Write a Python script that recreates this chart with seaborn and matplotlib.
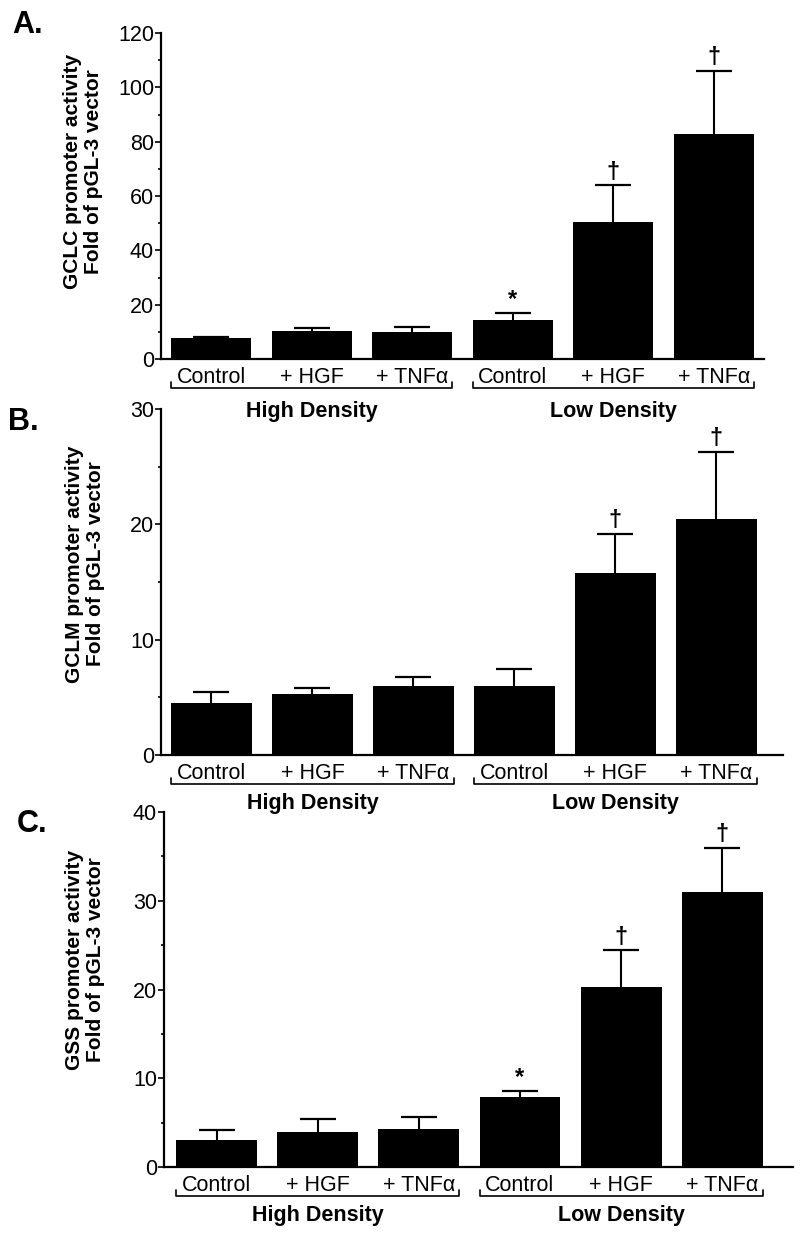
import matplotlib
matplotlib.use("Agg")
import matplotlib.pyplot as plt
import matplotlib.transforms as mtransforms
from matplotlib.ticker import MultipleLocator
import numpy as np
import pandas as pd
import seaborn as sns

# ---- data ----
conditions = ["Control", "+ HGF", "+ TNFα", "Control", "+ HGF", "+ TNFα"]
groups = ["High Density", "Low Density"]
group_of_bar = ["High Density"] * 3 + ["Low Density"] * 3
keys = [g + "|" + c for g, c in zip(group_of_bar, conditions)]

gclc_mean = [7.7, 10.3, 10.0, 14.4, 50.3, 83.0]
gclc_err = [0.3, 1.2, 1.8, 2.6, 13.7, 23.1]
gclc_marks = ["", "", "", "*", "†", "†"]

gclm_mean = [4.5, 5.25, 6.0, 6.0, 15.8, 20.5]
gclm_err = [1.0, 0.55, 0.8, 1.5, 3.4, 5.8]
gclm_marks = ["", "", "", "", "†", "†"]

gss_mean = [3.0, 4.0, 4.25, 7.85, 20.3, 30.95]
gss_err = [1.15, 1.4, 1.35, 0.75, 4.1, 5.05]
gss_marks = ["", "", "", "*", "†", "†"]

ylabels = ["GCLC promoter activity\nFold of pGL-3 vector",
           "GCLM promoter activity\nFold of pGL-3 vector",
           "GSS promoter activity\nFold of pGL-3 vector"]
letters = ["A.", "B.", "C."]
ymax = [120, 30, 40]
major_step = [20, 10, 10]
minor_step = [10, 5, 5]

sns.set_style("ticks", {"axes.edgecolor": "black", "text.color": "black",
                        "axes.labelcolor": "black", "xtick.color": "black",
                        "ytick.color": "black"})
plt.rcParams['font.family'] = ['Liberation Sans', 'DejaVu Sans']

W, H = 800, 1236
fig = plt.figure(figsize=(W / 100, H / 100), dpi=100)

# axes rectangles in pixels: left, right, top(ymax), bottom(0)
boxes = [(161, 764, 33, 359), (161, 783, 409, 755), (164, 793, 812, 1167)]
xlims = [(-0.5, 5.5), (-0.5, 5.66), (-0.52, 5.7)]
label_pos = [(-0.129, 0.574), (-0.122, 0.552), (-0.126, 0.583)]
letter_pos = [(12, 33), (8, 430), (17, 832)]
group_off = [0.53, 0.49, 0.49]

all_mean = [gclc_mean, gclm_mean, gss_mean]
all_err = [gclc_err, gclm_err, gss_err]
all_marks = [gclc_marks, gclm_marks, gss_marks]

for p in range(3):
    l, r, t, b = boxes[p]
    ax = fig.add_axes([l / W, 1 - b / H, (r - l) / W, (b - t) / H])
    ax.set_facecolor("none")
    ax_h = b - t

    df = pd.DataFrame({"key": keys, "value": all_mean[p]})
    sns.barplot(data=df, x="key", y="value", order=keys, color="black",
                saturation=1, width=0.8, errorbar=None, linewidth=0,
                edgecolor="black", ax=ax)
    eb = ax.errorbar(np.arange(6), all_mean[p],
                     yerr=[np.zeros(6), all_err[p]], fmt="none",
                     ecolor="black", elinewidth=1.5, capsize=13, capthick=1.6)
    eb[1][0].set_visible(False)  # hide lower caps

    # significance marks
    for i, m in enumerate(all_marks[p]):
        if m:
            ax.annotate(m, (i, all_mean[p][i] + all_err[p][i]),
                        xytext=(0, 1), textcoords="offset points",
                        ha="center", va="bottom", fontsize=17,
                        fontweight="bold", annotation_clip=False)

    ax.set_xlim(*xlims[p])
    ax.set_ylim(0, ymax[p])
    ax.set_yticks(np.arange(0, ymax[p] + 1, major_step[p]))
    ax.yaxis.set_minor_locator(MultipleLocator(minor_step[p]))
    ax.tick_params(axis="y", which="major", length=4, width=1.2,
                   labelsize=15.5, pad=1, direction="out")
    ax.tick_params(axis="y", which="minor", length=2.5, width=1.2,
                   direction="out")
    ax.set_xticks(range(6))
    ax.set_xticklabels(conditions)
    ax.tick_params(axis="x", length=0, pad=6, labelsize=15.5)
    ax.set_xlabel("")
    sns.despine(ax=ax)
    for s in ["left", "bottom"]:
        ax.spines[s].set_linewidth(1.6)

    ax.set_ylabel(ylabels[p], fontsize=15, fontweight="bold",
                  linespacing=1.15)
    ax.yaxis.label.set_verticalalignment("center")
    ax.yaxis.set_label_coords(*label_pos[p])

    # group brackets under the category labels
    base = mtransforms.blended_transform_factory(ax.transData, ax.transAxes)
    line_tr = base + mtransforms.ScaledTranslation(0, -0.29, fig.dpi_scale_trans)
    text_tr = base + mtransforms.ScaledTranslation(0, -group_off[p], fig.dpi_scale_trans)
    hk = 6 / ax_h
    for g, start in zip(groups, [0, 3]):
        x0, x1 = start - 0.4, start + 2.4
        ax.plot([x0, x0, x1, x1], [hk, 0, 0, hk], color="black", lw=1.2,
                transform=line_tr, clip_on=False)
        ax.text(start + 1, 0, g, transform=text_tr, ha="center",
                va="center", fontsize=15.5, fontweight="bold")

    lx, ly = letter_pos[p]
    fig.text(lx / W, 1 - ly / H, letters[p], fontsize=22,
             fontweight="bold", ha="left", va="baseline")

fig.savefig("out.png", dpi=100)
